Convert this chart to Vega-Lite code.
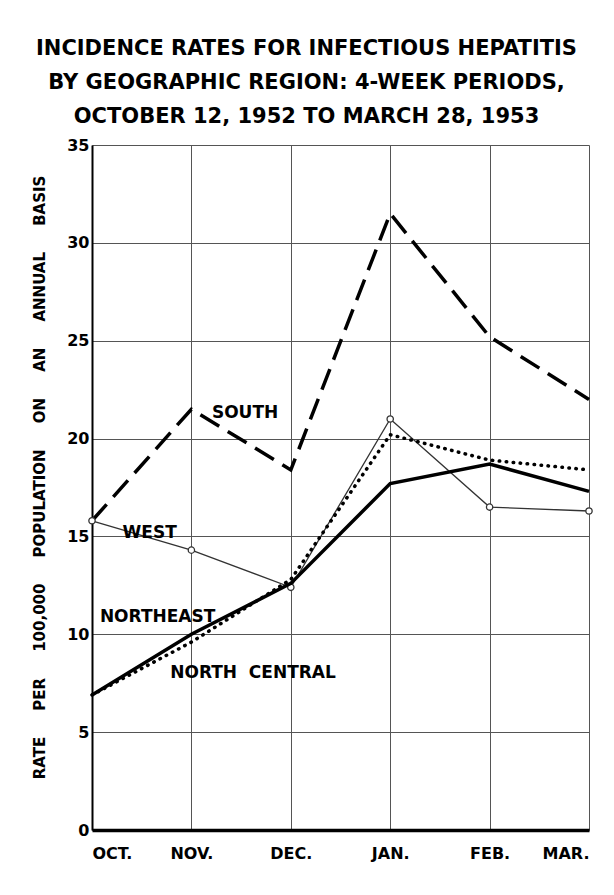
{
  "$schema": "https://vega.github.io/schema/vega-lite/v6.json",
  "autosize": "none",
  "width": 497,
  "height": 685,
  "padding": {"left": 92, "top": 145, "right": 25, "bottom": 65},
  "background": "white",
  "title": {
    "text": ["INCIDENCE RATES FOR INFECTIOUS HEPATITIS", "BY GEOGRAPHIC REGION: 4-WEEK PERIODS,", "OCTOBER 12, 1952 TO MARCH 28, 1953"],
    "font": "DejaVu Sans",
    "fontSize": 21,
    "fontWeight": "bold",
    "color": "black",
    "lineHeight": 34,
    "anchor": "middle",
    "dx": -34,
    "offset": 10
  },
  "config": {
    "view": {"stroke": null},
    "axis": {
      "labelFont": "DejaVu Sans",
      "labelFontWeight": "bold",
      "labelColor": "black",
      "gridColor": "#555",
      "gridWidth": 1,
      "ticks": false,
      "domainColor": "black"
    }
  },
  "datasets": {
    "rates": [
      {"period": 1, "region": "South", "rate": 15.8},
      {"period": 2, "region": "South", "rate": 21.5},
      {"period": 3, "region": "South", "rate": 18.4},
      {"period": 4, "region": "South", "rate": 31.5},
      {"period": 5, "region": "South", "rate": 25.2},
      {"period": 6, "region": "South", "rate": 22.0},
      {"period": 1, "region": "West", "rate": 15.8},
      {"period": 2, "region": "West", "rate": 14.3},
      {"period": 3, "region": "West", "rate": 12.4},
      {"period": 4, "region": "West", "rate": 21.0},
      {"period": 5, "region": "West", "rate": 16.5},
      {"period": 6, "region": "West", "rate": 16.3},
      {"period": 1, "region": "Northeast", "rate": 6.9},
      {"period": 2, "region": "Northeast", "rate": 10.0},
      {"period": 3, "region": "Northeast", "rate": 12.6},
      {"period": 4, "region": "Northeast", "rate": 17.7},
      {"period": 5, "region": "Northeast", "rate": 18.7},
      {"period": 6, "region": "Northeast", "rate": 17.3},
      {"period": 1, "region": "North Central", "rate": 6.9},
      {"period": 2, "region": "North Central", "rate": 9.6},
      {"period": 3, "region": "North Central", "rate": 12.8},
      {"period": 4, "region": "North Central", "rate": 20.2},
      {"period": 5, "region": "North Central", "rate": 18.9},
      {"period": 6, "region": "North Central", "rate": 18.4}
    ],
    "labels": [
      {"label": "SOUTH", "period": 2.54, "rate": 21.3},
      {"label": "WEST", "period": 1.58, "rate": 15.2},
      {"label": "NORTHEAST", "period": 1.66, "rate": 10.9},
      {"label": "NORTH\u00a0\u00a0CENTRAL", "period": 2.62, "rate": 8.0}
    ]
  },
  "encoding": {
    "x": {
      "field": "period",
      "type": "quantitative",
      "scale": {"domain": [1, 6], "nice": false, "zero": false},
      "axis": {
        "values": [1, 2, 3, 4, 5, 6],
        "labelExpr": "['OCT.','NOV.','DEC.','JAN.','FEB.','MAR.'][datum.value - 1]",
        "labelFontSize": 16,
        "labelPadding": 15,
        "labelFlush": true,
        "domainWidth": 3.5,
        "grid": true,
        "title": null
      }
    },
    "y": {
      "field": "rate",
      "type": "quantitative",
      "scale": {"domain": [0, 35], "nice": false},
      "axis": {
        "values": [0, 5, 10, 15, 20, 25, 30, 35],
        "labelFontSize": 16,
        "labelPadding": 3,
        "domainWidth": 2,
        "grid": true,
        "title": "RATE\u00a0\u00a0\u00a0\u00a0\u00a0PER\u00a0\u00a0\u00a0\u00a0\u00a0100,000\u00a0\u00a0\u00a0\u00a0\u00a0POPULATION\u00a0\u00a0\u00a0\u00a0\u00a0ON\u00a0\u00a0\u00a0\u00a0\u00a0AN\u00a0\u00a0\u00a0\u00a0\u00a0ANNUAL\u00a0\u00a0\u00a0\u00a0\u00a0BASIS",
        "titleFont": "DejaVu Sans",
        "titleFontSize": 15,
        "titleFontWeight": "bold",
        "titleColor": "black",
        "titlePadding": 19,
        "titleY": 332
      }
    }
  },
  "layer": [
    {
      "data": {"name": "rates"},
      "transform": [{"filter": "datum.region === 'South'"}],
      "mark": {"type": "line", "color": "black", "strokeWidth": 3.5, "strokeDash": [22, 10]}
    },
    {
      "data": {"name": "rates"},
      "transform": [{"filter": "datum.region === 'West'"}],
      "mark": {"type": "line", "color": "#333", "strokeWidth": 1.3, "point": {"filled": false, "fill": "white", "stroke": "#333", "strokeWidth": 1.3, "size": 40, "shape": "circle"}}
    },
    {
      "data": {"name": "rates"},
      "transform": [{"filter": "datum.region === 'Northeast'"}],
      "mark": {"type": "line", "color": "black", "strokeWidth": 3.5}
    },
    {
      "data": {"name": "rates"},
      "transform": [{"filter": "datum.region === 'North Central'"}],
      "mark": {"type": "line", "color": "black", "strokeWidth": 3.5, "strokeCap": "round", "strokeDash": [0.5, 6.5]}
    },
    {
      "data": {"name": "labels"},
      "mark": {"type": "text", "font": "DejaVu Sans", "fontWeight": "bold", "fontSize": 17, "color": "black", "align": "center", "baseline": "middle"},
      "encoding": {"text": {"field": "label"}}
    }
  ]
}
